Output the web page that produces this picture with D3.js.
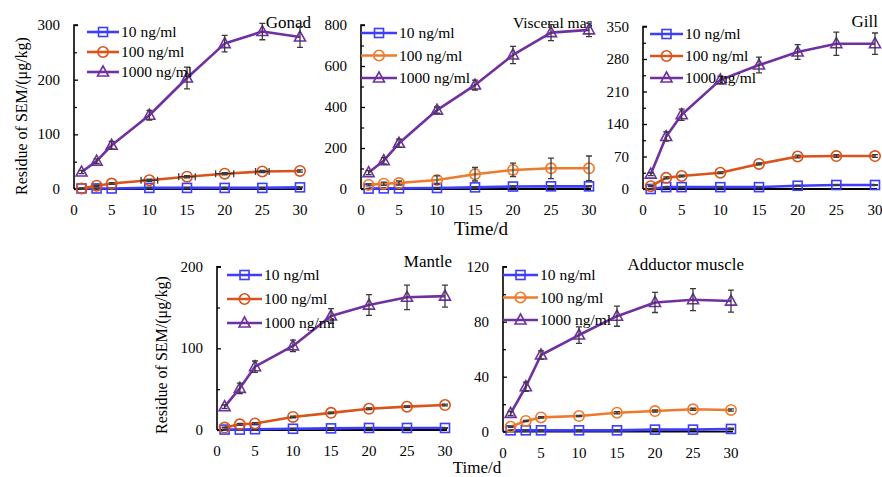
<!DOCTYPE html>
<html><head><meta charset="utf-8">
<script src="https://cdn.jsdelivr.net/npm/d3@7"></script>
<style>body{margin:0;background:#fff}svg{display:block}</style>
</head><body>
<svg id="c" width="882" height="477"></svg>
<script>
// ---------- data ----------
const days = [1, 3, 5, 10, 15, 20, 25, 30];
const seriesNames = ["10 ng/ml", "100 ng/ml", "1000 ng/ml"];
const yAxisLabel = "Residue of SEM/(μg/kg)";
const xAxisLabel = "Time/d";

const gonad10 = [1, 1, 1, 2, 2, 2, 2, 3];
const gonad100 = [1, 6, 10, 16, 22.5, 28, 32, 33];
const gonad1000 = [31, 51, 80, 135, 203, 266, 288, 278];
const gonad10Err = [0.5, 0.5, 0.5, 1, 1, 1, 1, 1];
const gonad100Err = [1, 1, 1.5, 2, 2, 2, 2, 2];
const gonad100XErr = [0, 0, 0, 1.1, 1.1, 1.2, 0.9, 0];
const gonad1000Err = [3, 4, 7, 9, 20, 15, 15, 19];
const gonadTicks = [0, 100, 200, 300];

const visc10 = [2, 3, 3, 5, 8, 12, 13, 13];
const visc100 = [20, 26, 29, 44, 72, 93, 101, 101];
const visc1000 = [80, 138, 223, 385, 507, 654, 763, 776];
const visc10Err = [1, 1, 1, 2, 3, 3, 3, 3];
const visc100Err = [5, 8, 10, 20, 33, 33, 50, 60];
const visc1000Err = [10, 15, 20, 15, 24, 42, 39, 33];
const viscTicks = [0, 200, 400, 600, 800];

const gill10 = [0, 4, 4, 4, 4, 7, 8.6, 8.6];
const gill100 = [6, 24, 28, 35, 54, 70, 71, 71];
const gill1000 = [32, 113, 160, 235, 267, 295, 313, 313];
const gill10Err = [0.5, 0.5, 0.5, 0.5, 0.5, 1, 1, 1];
const gill100Err = [1, 2, 2, 2, 2, 3, 3, 3];
const gill1000Err = [3, 10, 12, 8, 17, 16, 25, 23];
const gillTicks = [0, 70, 140, 210, 280, 350];

const mantle10 = [0.5, 0.5, 1, 1.5, 2, 2.5, 2.5, 2.5];
const mantle100 = [3, 7, 8, 16, 21, 26, 28.6, 30.6];
const mantle1000 = [28.6, 51, 77.5, 103, 139.6, 153, 162.5, 164];
const mantle10Err = [0.3, 0.3, 0.3, 0.5, 0.5, 0.5, 0.5, 0.5];
const mantle100Err = [0.5, 1, 1, 1, 1, 1, 1, 1];
const mantle1000Err = [2, 6.5, 7, 7, 9, 12.7, 15, 13.5];
const mantleTicks = [0, 100, 200];

const add10 = [1, 1, 1, 1, 1, 1.5, 1.5, 2];
const add100 = [3.6, 7.8, 10.4, 11.4, 13.8, 15, 16.3, 15.8];
const add1000 = [13.3, 32.7, 55.8, 70.3, 84, 94, 96, 95];
const add10Err = [0.3, 0.3, 0.3, 0.3, 0.3, 0.5, 0.5, 0.5];
const add100Err = [0.5, 0.5, 0.5, 0.5, 0.8, 0.8, 0.8, 0.8];
const add1000Err = [1.5, 3.3, 3, 6, 7.3, 7.3, 8, 8];
const addTicks = [0, 40, 80, 120];

const xTicks = [0, 5, 10, 15, 20, 25, 30];

// ---------- drawing ----------
const svg = d3.select("#c");
const FONT = "'Liberation Serif','Times New Roman',serif";
const BLUE = "#3d3dfb", PURPLE = "#7030a0";

function drawPanel(p) {
  const g = svg.append("g");
  const x = d3.scaleLinear().domain([0, 30]).range([p.x0, p.x1]);
  const y = d3.scaleLinear().domain([0, p.ymax]).range([p.yb, p.yt]);

  // y axis (ticks inward)
  const yAx = d3.axisRight(y).tickValues(p.ticks).tickSize(4).tickFormat("");
  g.append("g").attr("transform", `translate(${p.x0},0)`).call(yAx)
    .call(s => { s.select(".domain").attr("stroke", "#000").attr("stroke-width", 1.6).attr("d", `M4,${p.yt}H0V${p.yb}`);
                 s.selectAll(".tick line").attr("stroke", "#000").attr("stroke-width", 1.3); });
  const minor = d3.range(p.minor, p.ymax, p.minor * 2);
  g.append("g").attr("transform", `translate(${p.x0},0)`).call(d3.axisRight(y).tickValues(minor).tickSize(3).tickFormat(""))
    .call(s => { s.select(".domain").remove(); s.selectAll(".tick line").attr("stroke", "#000").attr("stroke-width", 1.2); });
  g.selectAll("text.yt").data(p.ticks).join("text").attr("class", "yt")
    .attr("x", p.x0 - 14).attr("y", d => y(d) + 5).attr("text-anchor", "end")
    .attr("font-family", FONT).attr("font-size", 15).text(d => d);
  // x axis
  g.append("line").attr("x1", p.x0).attr("x2", p.x1 + 2).attr("y1", p.yb).attr("y2", p.yb)
    .attr("stroke", "#000").attr("stroke-width", 1.8);
  g.selectAll("text.xt").data(xTicks).join("text").attr("class", "xt")
    .attr("x", d => x(d)).attr("y", p.yb + 26).attr("text-anchor", "middle")
    .attr("font-family", FONT).attr("font-size", 15).text(d => d);

  // title
  const t = g.append("text").attr("x", p.tx).attr("y", p.ty).attr("text-anchor", "end")
    .attr("font-family", FONT).attr("font-size", p.tsize || 17).text(p.title);
  if (p.clip) {
    const id = "clip" + Math.round(p.x0);
    svg.append("clipPath").attr("id", id).append("rect").attr("x", 0).attr("y", 0).attr("width", p.clip).attr("height", 477);
    t.attr("text-anchor", "start").attr("clip-path", `url(#${id})`);
  }

  const colors = [BLUE, p.orange, PURPLE];
  const shapes = ["square", "circle", "tri"];
  const line = d3.line().x((d, i) => x(days[i])).y(d => y(d));

  function marker(sel, shape, cx, cy, col) {
    if (shape === "square") sel.append("rect").attr("x", cx - 4.5).attr("y", cy - 4.5).attr("width", 9).attr("height", 9)
      .attr("fill", "none").attr("stroke", col).attr("stroke-width", 1.6);
    else if (shape === "circle") sel.append("circle").attr("cx", cx).attr("cy", cy).attr("r", 5.2)
      .attr("fill", "none").attr("stroke", col).attr("stroke-width", 1.6);
    else sel.append("path").attr("d", `M${cx},${cy - 6}L${cx + 5.5},${cy + 4}L${cx - 5.5},${cy + 4}Z`)
      .attr("fill", "none").attr("stroke", col).attr("stroke-width", 1.6);
  }

  p.series.forEach((vals, k) => {
    g.append("path").datum(vals).attr("d", line).attr("fill", "none")
      .attr("stroke", colors[k]).attr("stroke-width", 2.6).attr("stroke-linejoin", "round");
    vals.forEach((v, i) => marker(g, shapes[k], x(days[i]), y(v), colors[k]));
    // vertical error bars
    vals.forEach((v, i) => {
      const e = p.errs[k][i];
      const y1 = y(v + e), y2 = y(Math.max(0, v - e));
      const cx = x(days[i]);
      g.append("path").attr("d", `M${cx},${y1}V${y2}M${cx - 3},${y1}H${cx + 3}M${cx - 3},${y2}H${cx + 3}`)
        .attr("stroke", "#3a3a3a").attr("stroke-width", 1.3).attr("fill", "none");
    });
    if (p.xerrs && p.xerrs[k]) {
      vals.forEach((v, i) => {
        const e = p.xerrs[k][i];
        if (!e) return;
        const cy = y(v), a = x(days[i] - e), b = x(days[i] + e);
        g.append("path").attr("d", `M${a},${cy}H${b}M${a},${cy - 3.5}V${cy + 3.5}M${b},${cy - 3.5}V${cy + 3.5}`)
          .attr("stroke", "#3a3a3a").attr("stroke-width", 1.3).attr("fill", "none");
      });
    }
  });

  // legend
  seriesNames.forEach((name, k) => {
    const ly = p.ly + k * p.lgap;
    g.append("line").attr("x1", p.lx).attr("x2", p.lx + p.lw).attr("y1", ly).attr("y2", ly)
      .attr("stroke", colors[k]).attr("stroke-width", 2.6);
    marker(g, shapes[k], p.lx + p.lw / 2, ly, colors[k]);
    g.append("text").attr("x", p.lx + p.lw + 2).attr("y", ly + 5)
      .attr("font-family", FONT).attr("font-size", 15.5).text(name);
  });
}

drawPanel({ x0: 74, x1: 300, yt: 25, yb: 189, ymax: 300, ticks: gonadTicks, minor: 50,
  title: "Gonad", tx: 311, ty: 28, orange: "#d9531a",
  series: [gonad10, gonad100, gonad1000], errs: [gonad10Err, gonad100Err, gonad1000Err],
  xerrs: [null, gonad100XErr, null], lx: 87, lw: 32, ly: 32, lgap: 20 });
drawPanel({ x0: 361, x1: 589, yt: 25, yb: 189, ymax: 800, ticks: viscTicks, minor: 100,
  title: "Visceral mass", tx: 513, ty: 28, tsize: 15.5, clip: 592, orange: "#ee7a2e",
  series: [visc10, visc100, visc1000], errs: [visc10Err, visc100Err, visc1000Err],
  lx: 361, lw: 36, ly: 33, lgap: 22.5 });
drawPanel({ x0: 643, x1: 875, yt: 26.5, yb: 189, ymax: 350, ticks: gillTicks, minor: 35,
  title: "Gill", tx: 878, ty: 27, orange: "#d9531a",
  series: [gill10, gill100, gill1000], errs: [gill10Err, gill100Err, gill1000Err],
  lx: 650, lw: 33, ly: 34, lgap: 22 });
drawPanel({ x0: 217, x1: 445, yt: 266.7, yb: 430, ymax: 200, ticks: mantleTicks, minor: 50,
  title: "Mantle", tx: 452, ty: 267, orange: "#d9531a",
  series: [mantle10, mantle100, mantle1000], errs: [mantle10Err, mantle100Err, mantle1000Err],
  lx: 227, lw: 35, ly: 275, lgap: 24 });
drawPanel({ x0: 503, x1: 731, yt: 266.7, yb: 431.7, ymax: 120, ticks: addTicks, minor: 20,
  title: "Adductor muscle", tx: 744, ty: 270, orange: "#ee7a2e",
  series: [add10, add100, add1000], errs: [add10Err, add100Err, add1000Err],
  lx: 503, lw: 35, ly: 275, lgap: 22.5 });

// axis titles
svg.append("text").attr("transform", "translate(27,116) rotate(-90)").attr("text-anchor", "middle")
  .attr("font-family", FONT).attr("font-size", 16).text(yAxisLabel);
svg.append("text").attr("transform", "translate(167,355) rotate(-90)").attr("text-anchor", "middle")
  .attr("font-family", FONT).attr("font-size", 16).text(yAxisLabel);
svg.append("text").attr("x", 481).attr("y", 235).attr("text-anchor", "middle")
  .attr("font-family", FONT).attr("font-size", 19).text(xAxisLabel);
svg.append("text").attr("x", 477).attr("y", 473).attr("text-anchor", "middle")
  .attr("font-family", FONT).attr("font-size", 17).text(xAxisLabel);
</script>
</body></html>
